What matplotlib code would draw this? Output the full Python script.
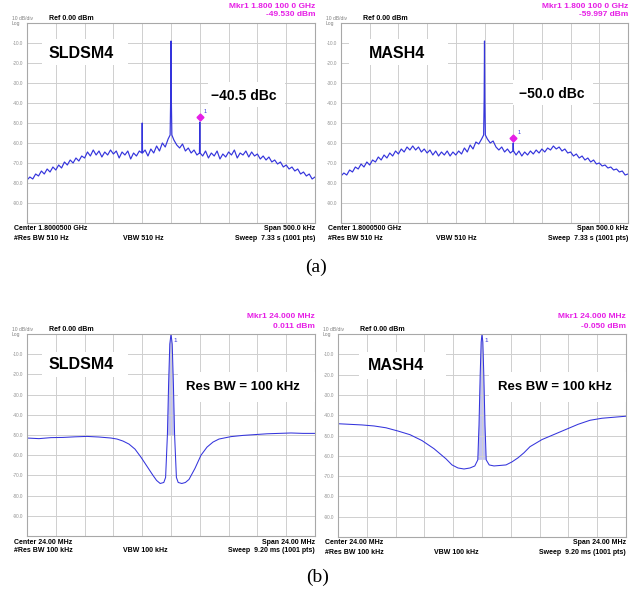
import numpy as np
import matplotlib.pyplot as plt
from matplotlib.patches import Rectangle

plt.rcParams['font.family'] = ['Liberation Sans', 'DejaVu Sans']

W, H = 636, 597
TRACE = '#3434dc'
MAGENTA = '#e61ee6'
GRID = '#cfcfcf'

# ---- (a) close-in spectrum, offset from 1.8000500 GHz in kHz ----
a_freq = np.arange(-250, 251, 5)
a_sldsm4 = [-78.5, -77, -78, -75.5, -76.5, -74, -75.5, -73, -74.5, -72,
            -73.5, -71, -72.5, -69.5, -71, -68.5, -70, -67.5, -69, -66.5,
            -67.5, -64.5, -66.5, -63.5, -66, -64, -67, -64.5, -66, -63.5,
            -65.5, -64, -67.5, -64.5, -66, -64, -68, -65, -66.5, -64,
            -65.5, -63.5, -66.5, -63, -65, -61.5, -64, -60, -62, -58,
            -55, -58.5, -61, -62.5, -60.5, -64, -62.5, -65, -63.5, -66,
            -64.5, -66.5, -64, -67.5, -65, -66.5, -64, -68, -65.5, -67,
            -64.5, -66, -63.5, -67.5, -65, -66, -64, -67, -64.5, -66.5,
            -65.5, -68, -66.5, -68.5, -67, -69.5, -68.5, -70.5, -69.5, -72,
            -71, -73, -72, -74, -73, -75.5, -74.5, -76.5, -75.5, -78,
            -77]
a_mash4 = [-76.5, -75, -76, -73.5, -74.5, -72, -73, -70.5, -72, -69.5,
           -71, -68.5, -69.5, -67, -68.5, -66, -67.5, -65, -66.5, -64,
           -65.5, -63, -64.5, -62, -63.5, -61.5, -63.5, -62, -64.5, -63,
           -65, -63.5, -66, -64, -66.5, -64.5, -66, -64, -66.5, -64.5,
           -66, -64, -65.5, -62.5, -64.5, -61, -63, -59.5, -60.5, -58,
           -55, -58, -60, -59, -62, -63.5, -62, -64.5, -63, -65,
           -63.5, -66, -64, -66.5, -64.5, -66, -64, -65.5, -63.5, -65,
           -63, -64.5, -62.5, -63.5, -61.5, -63, -62, -64, -63, -65,
           -64.5, -66.5, -65.5, -67.5, -66.5, -68.5, -67.5, -69.5, -68.5, -70.5,
           -70, -71.5, -71, -72.5, -72, -73.5, -73, -74.5, -74, -76,
           -75.5]
# carrier and spurs (narrow lines)
a_sldsm4_line_freq = [-50.6, -50, -49.4, -1.5, -0.6, 0, 0.6, 1.5, 49.4, 50, 50.6]
a_sldsm4_line_lvl = [-65, -50, -65, -56, -38, -9, -38, -56, -65, -49.5, -65]
a_mash4_line_freq = [-1.5, -0.6, 0, 0.6, 1.5, 49.4, 50, 50.6]
a_mash4_line_lvl = [-56, -38, -9, -38, -56, -64, -60, -64]
a_marker = {'SLDSM4': -49.53, 'MASH4': -59.997}

# ---- (b) wide span, offset from 24.00 MHz in MHz ----
b_sldsm4_freq = [-12, -11, -10, -9, -8, -7, -6, -5, -4.5, -4, -3.5, -3, -2.5, -2,
                 -1.5, -1.2, -0.9, -0.6, -0.45, -0.3, -0.2, -0.1, 0, 0.1, 0.2,
                 0.3, 0.45, 0.6, 0.9, 1.2, 1.5, 2, 2.5, 3, 3.5, 4, 5, 6, 7, 8,
                 9, 10, 11, 12]
b_sldsm4 = [-51.5, -51.8, -51.3, -51.2, -50.9, -50.7, -51.0, -51.5, -52, -53,
            -54.5, -57, -61, -65.5, -70, -72.5, -74, -73.5, -71, -50, -25, -5,
            0, -5, -25, -50, -71, -73.5, -74, -73.5, -72, -66.5, -60, -56,
            -53.5, -52, -50.8, -50.2, -49.8, -49.4, -49.2, -49, -49.2, -49.2]
b_mash4_freq = [-12, -11, -10, -9, -8, -7, -6, -5, -4, -3, -2.5, -2, -1.5, -1,
                -0.6, -0.35, -0.25, -0.15, -0.07, 0, 0.07, 0.15, 0.25, 0.35,
                0.6, 1, 2, 2.5, 3, 3.5, 4, 5, 6, 7, 8, 9, 10, 11, 12]
b_mash4 = [-44.2, -44.5, -44.8, -45.3, -46.2, -47.8, -49.6, -52.5, -56.5, -61.5,
           -64.5, -66, -66.5, -66, -65, -62, -45, -20, -4, 0, -4, -20, -45,
           -62, -64.5, -65, -64.5, -63, -61, -58.5, -55.5, -52, -49.5, -47,
           -44.5, -42.5, -41.5, -41, -40.5]

y_ticks = [-10, -20, -30, -40, -50, -60, -70, -80, -90]


def frect(x0, y0, x1, y1):
    return [x0 / W, 1 - y1 / H, (x1 - x0) / W, (y1 - y0) / H]


def ftext(x, y, s, **kw):
    fig.text(x / W, 1 - y / H, s, **kw)


def wbox(x0, y0, x1, y1):
    fig.add_artist(Rectangle((x0 / W, 1 - y1 / H), (x1 - x0) / W, (y1 - y0) / H,
                             transform=fig.transFigure, facecolor='white',
                             edgecolor='none', zorder=2))


def screen(rect, span):
    ax = fig.add_axes(frect(*rect))
    ax.set_xlim(-span / 2, span / 2)
    ax.set_ylim(-100, 0)
    ax.set_xticks(np.linspace(-span / 2, span / 2, 11))
    ax.set_xticklabels([])
    ax.set_yticks(y_ticks)
    ax.set_yticklabels([f'{v:.1f}' for v in y_ticks])
    ax.tick_params(length=0, labelsize=3.3, labelcolor='#909090', pad=3)
    ax.grid(True, color=GRID, lw=0.7)
    for s in ax.spines.values():
        s.set_color('#a8a8a8')
        s.set_linewidth(0.8)
    return ax


def merge(freq, lvl, lf, ll):
    freq = np.asarray(freq, float)
    lvl = np.asarray(lvl, float)
    keep = np.ones(len(freq), bool)
    for f in lf:
        keep &= np.abs(freq - f) > 2
    f_all = np.concatenate([freq[keep], lf])
    l_all = np.concatenate([lvl[keep], ll])
    order = np.argsort(f_all, kind='stable')
    return f_all[order], l_all[order]


def header(x0, x1, y, mkr1, mkr2):
    ftext(x0 - 15, y - 4, '10 dB/div', fontsize=3.6, color='#808080', va='center')
    ftext(x0 - 15, y + 0.5, 'Log', fontsize=3.6, color='#808080', va='center')
    ftext(x0 + 22, y - 4, 'Ref 0.00 dBm', fontsize=5, fontweight='bold', va='center')
    ftext(x1, y - 17, mkr1, fontsize=6, fontweight='bold', color=MAGENTA,
          ha='right', va='center')
    ftext(x1, y - 8, mkr2, fontsize=6, fontweight='bold', color=MAGENTA,
          ha='right', va='center')


def footer(x0, x1, y, vbx, lines):
    kw = dict(fontsize=5, fontweight='bold', va='center')
    ftext(x0 - 13, y + 6, lines[0], **kw)
    ftext(x0 - 13, y + 15, lines[1], **kw)
    ftext(vbx, y + 15, lines[2], **kw)
    ftext(x1, y + 6, lines[3], ha='right', **kw)
    ftext(x1, y + 15, lines[4], ha='right', **kw)


fig = plt.figure(figsize=(6.36, 5.97), dpi=100)

# ---------------- (a) ----------------
a_panels = [
    ('SLDSM4', (27, 23, 315, 223), a_sldsm4, a_sldsm4_line_freq, a_sldsm4_line_lvl,
     '\u221240.5 dBc', '-49.530 dBm', (81, 54, 42, 39, 128, 65),
     (244, 96, 208, 82, 285, 107), 123),
    ('MASH4', (341, 23, 628, 223), a_mash4, a_mash4_line_freq, a_mash4_line_lvl,
     '\u221250.0 dBc', '-59.997 dBm', (397, 54, 349, 39, 448, 65),
     (552, 94, 513, 80, 593, 105), 436),
]
for name, rect, lvl, lf, ll, dbc, mk, nbox, dbox, vbx in a_panels:
    ax = screen(rect, 500)
    f, l = merge(a_freq, lvl, lf, ll)
    ax.plot(f, l, color=TRACE, lw=0.85)
    ax.plot([50], [a_marker[name] + 2.5], marker='D', ms=3.5, color=MAGENTA)
    ax.annotate('1', (50, a_marker[name] + 2.5), xytext=(3, 3),
                textcoords='offset points', fontsize=4, color=TRACE)
    x0, y0, x1, y1 = rect
    header(x0, x1, y0, 'Mkr1 1.800 100 0 GHz', mk)
    footer(x0, x1, y1, vbx, ['Center 1.8000500 GHz', '#Res BW 510 Hz', 'VBW 510 Hz',
                             'Span 500.0 kHz', 'Sweep  7.33 s (1001 pts)'])
    wbox(*nbox[2:])
    ftext(nbox[0], nbox[1], name, fontsize=11.5, fontweight='bold',
          ha='center', va='center', zorder=3)
    wbox(*dbox[2:])
    ftext(dbox[0], dbox[1], dbc, fontsize=10, fontweight='bold',
          ha='center', va='center', zorder=3)

# ---------------- (b) ----------------
b_panels = [
    ('SLDSM4', (27, 334, 315, 536), b_sldsm4_freq, b_sldsm4, '0.011 dBm',
     (81, 364.5, 42, 352, 128, 377), (243, 387, 178, 372, 315, 402), 123),
    ('MASH4', (338, 334, 626, 537), b_mash4_freq, b_mash4, '-0.050 dBm',
     (396, 365.5, 359, 352, 446, 379), (555, 386.5, 489, 372, 626, 402), 434),
]
for name, rect, freq, lvl, mk, nbox, rbox, vbx in b_panels:
    ax = screen(rect, 24)
    freq = np.asarray(freq)
    lvl = np.asarray(lvl)
    pk = np.abs(freq) < 0.4
    ax.fill(freq[pk], lvl[pk], color='#c4c4f2', lw=0)
    ax.plot(freq, lvl, color=TRACE, lw=0.75)
    ax.annotate('1', (0, 0), xytext=(2, -6), textcoords='offset points',
                fontsize=4.5, color=TRACE)
    x0, y0, x1, y1 = rect
    header(x0, x1, y0, 'Mkr1 24.000 MHz', mk)
    footer(x0, x1, y1, vbx, ['Center 24.00 MHz', '#Res BW 100 kHz', 'VBW 100 kHz',
                             'Span 24.00 MHz', 'Sweep  9.20 ms (1001 pts)'])
    wbox(*nbox[2:])
    ftext(nbox[0], nbox[1], name, fontsize=11.5, fontweight='bold',
          ha='center', va='center', zorder=3)
    wbox(*rbox[2:])
    ftext(rbox[0], rbox[1], 'Res BW = 100 kHz', fontsize=9.5, fontweight='bold',
          ha='center', va='center', zorder=3)

ftext(316, 267, '(a)', fontsize=14, family=['Liberation Serif', 'DejaVu Serif'],
      ha='center', va='center')
ftext(318, 577, '(b)', fontsize=14, family=['Liberation Serif', 'DejaVu Serif'],
      ha='center', va='center')

fig.savefig('out.png', dpi=100, facecolor='white')
